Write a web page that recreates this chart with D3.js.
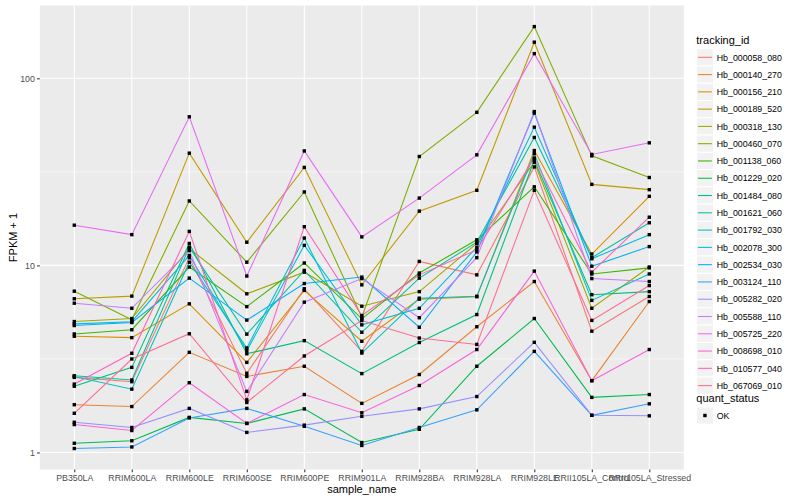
<!DOCTYPE html>
<html><head><meta charset="utf-8">
<script src="https://cdn.jsdelivr.net/npm/d3@7/dist/d3.min.js"></script>
<style>body{margin:0;background:#fff} text{font-family:"Liberation Sans",Arial,Helvetica,sans-serif}</style>
</head><body><svg id="c" width="800" height="500"></svg>
<script>
const categories = ["PB350LA","RRIM600LA","RRIM600LE","RRIM600SE","RRIM600PE","RRIM901LA","RRIM928BA","RRIM928LA","RRIM928LE","RRII105LA_Control","RRII105LA_Stressed"];
const trackingIds = ["Hb_000058_080","Hb_000140_270","Hb_000156_210","Hb_000189_520","Hb_000318_130","Hb_000460_070","Hb_001138_060","Hb_001229_020","Hb_001484_080","Hb_001621_060","Hb_001792_030","Hb_002078_300","Hb_002534_030","Hb_003124_110","Hb_005282_020","Hb_005588_110","Hb_005725_220","Hb_008698_010","Hb_010577_040","Hb_067069_010"];

const Hb_000058_080 = [2.52, 2.39, 11.0, 2.65, 7.5, 3.47, 10.5, 8.9, 33.6, 4.45, 6.82];
const Hb_000140_270 = [1.80, 1.76, 3.43, 2.55, 2.89, 1.83, 2.61, 4.7, 8.2, 2.42, 6.41];
const Hb_000156_210 = [4.18, 4.11, 6.23, 3.03, 7.35, 3.93, 6.6, 6.8, 41.1, 11.5, 23.4];
const Hb_000189_520 = [6.63, 6.85, 39.8, 13.3, 33.4, 7.87, 19.5, 25.2, 156, 27.1, 25.4];
const Hb_000318_130 = [5.01, 5.2, 12.3, 7.05, 9.2, 6.05, 7.24, 13.1, 35.6, 5.9, 9.8];
const Hb_000460_070 = [7.28, 5.12, 22.1, 10.4, 24.7, 5.28, 38.2, 65.8, 189, 38.5, 29.5];
const Hb_001138_060 = [4.30, 4.53, 9.8, 6.02, 10.3, 5.18, 9.1, 13.7, 26.3, 9.0, 9.7];
const Hb_001229_020 = [1.12, 1.155, 1.54, 1.43, 1.71, 1.13, 1.33, 2.89, 5.2, 1.97, 2.04];
const Hb_001484_080 = [2.26, 2.85, 13.1, 3.37, 3.96, 2.64, 3.87, 5.46, 36.6, 6.97, 7.24];
const Hb_001621_060 = [2.57, 2.44, 12.5, 4.29, 9.4, 4.39, 8.55, 13.3, 48.3, 11.0, 16.9];
const Hb_001792_030 = [2.55, 2.18, 10.4, 3.62, 14.0, 3.40, 6.68, 6.84, 39.6, 6.5, 9.0];
const Hb_002078_300 = [4.87, 5.0, 11.3, 3.5, 12.8, 4.81, 5.9, 12.5, 54.8, 10.85, 14.6];
const Hb_002534_030 = [4.77, 4.95, 8.55, 5.1, 8.0, 8.66, 4.67, 11.8, 65.2, 9.9, 12.6];
const Hb_003124_110 = [1.05, 1.07, 1.53, 1.72, 1.38, 1.09, 1.36, 1.69, 3.47, 1.58, 1.82];
const Hb_005282_020 = [1.45, 1.36, 1.72, 1.28, 1.40, 1.56, 1.71, 1.99, 3.88, 1.58, 1.57];
const Hb_005588_110 = [6.28, 5.9, 12.0, 2.12, 6.36, 8.5, 5.25, 11.0, 66.4, 8.5, 8.2];
const Hb_005725_220 = [16.4, 14.6, 62.3, 8.77, 40.9, 14.2, 22.9, 39, 135.5, 39.2, 45.2];
const Hb_008698_010 = [1.41, 1.31, 2.36, 1.43, 2.04, 1.63, 2.28, 3.55, 9.32, 2.42, 3.55];
const Hb_010577_040 = [2.32, 3.39, 15.2, 1.91, 16.1, 5.4, 8.9, 12.1, 37.5, 9.2, 18.1];
const Hb_067069_010 = [1.62, 3.16, 4.31, 1.85, 3.28, 5.07, 4.09, 3.78, 25.2, 5.08, 7.8];

const yTickValues = [1, 10, 100];
const yMinorValues = [Math.sqrt(10), Math.sqrt(1000)];
const quantStatus = ["OK"];

const palette = ["#F8766D","#EA8331","#D89000","#C09B00","#A3A500","#7CAE00","#39B600","#00BB4E","#00BF7D","#00C1A3","#00BFC4","#00BAE0","#00B0F6","#35A2FF","#9590FF","#C77CFF","#E76BF3","#FA62DB","#FF62BC","#FF6C91"];

const allValues = [Hb_000058_080,Hb_000140_270,Hb_000156_210,Hb_000189_520,Hb_000318_130,Hb_000460_070,Hb_001138_060,Hb_001229_020,Hb_001484_080,Hb_001621_060,Hb_001792_030,Hb_002078_300,Hb_002534_030,Hb_003124_110,Hb_005282_020,Hb_005588_110,Hb_005725_220,Hb_008698_010,Hb_010577_040,Hb_067069_010];
const series = trackingIds.map((id,i)=>({id, color: palette[i], values: allValues[i]}));

const svg = d3.select("#c");
const L = 39.8, R = 683.8, T = 5.5, B = 469.6;

const x = d3.scalePoint().domain(categories).range([L, R]).padding(0.6);
const flat = allValues.flat();
const lmin = Math.log10(d3.min(flat)), lmax = Math.log10(d3.max(flat));
const ex = (lmax - lmin) * 0.05;
const y = d3.scaleLog().domain([Math.pow(10, lmin - ex), Math.pow(10, lmax + ex)]).range([B, T]);

// panel
svg.append("rect").attr("x", L).attr("y", T).attr("width", R - L).attr("height", B - T).attr("fill", "#EBEBEB");
const g = svg.append("g");
g.selectAll(".ymin").data(yMinorValues).join("line")
  .attr("x1", L).attr("x2", R).attr("y1", d => y(d)).attr("y2", d => y(d))
  .attr("stroke", "#fff").attr("stroke-width", 0.53);
g.selectAll(".ymaj").data(yTickValues).join("line")
  .attr("x1", L).attr("x2", R).attr("y1", d => y(d)).attr("y2", d => y(d))
  .attr("stroke", "#fff").attr("stroke-width", 1.07);
g.selectAll(".xmaj").data(categories).join("line")
  .attr("x1", d => x(d)).attr("x2", d => x(d)).attr("y1", T).attr("y2", B)
  .attr("stroke", "#fff").attr("stroke-width", 1.07);

// lines
const line = d3.line().x((d, i) => x(categories[i])).y(d => y(d));
svg.append("g").selectAll("path").data(series).join("path")
  .attr("d", d => line(d.values)).attr("fill", "none")
  .attr("stroke", d => d.color).attr("stroke-width", 1.07);

// points
const pts = [];
series.forEach(s => s.values.forEach((v, i) => pts.push({c: categories[i], v})));
svg.append("g").selectAll("rect").data(pts).join("rect")
  .attr("x", d => x(d.c) - 1.7).attr("y", d => y(d.v) - 1.7)
  .attr("width", 3.4).attr("height", 3.4).attr("fill", "#000");

// axes
const xa = svg.append("g").attr("transform", `translate(0,${B})`)
  .call(d3.axisBottom(x).tickSize(2.75).tickPadding(2.2));
const ya = svg.append("g").attr("transform", `translate(${L},0)`)
  .call(d3.axisLeft(y).tickValues(yTickValues).tickFormat(d3.format("d")).tickSize(2.75).tickPadding(2.2));
[xa, ya].forEach(a => {
  a.select(".domain").remove();
  a.selectAll(".tick line").attr("stroke", "#333333").attr("stroke-width", 1.07);
  a.selectAll(".tick text").attr("fill", "#4D4D4D").attr("font-size", 8.8)
    .attr("font-family", '"Liberation Sans",Arial,sans-serif');
});

// axis titles
svg.append("text").attr("x", (L + R) / 2).attr("y", 493).attr("text-anchor", "middle")
  .attr("font-size", 11).attr("fill", "#000").text("sample_name");
svg.append("text").attr("transform", `translate(16.5,${(T + B) / 2}) rotate(-90)`).attr("text-anchor", "middle")
  .attr("font-size", 11).attr("fill", "#000").text("FPKM + 1");

// legend 1
const lx = 696.3, keyW = 17.28, firstY = 57.3;
svg.append("text").attr("x", lx).attr("y", 44.3).attr("font-size", 11).attr("fill", "#000").text("tracking_id");
const lg = svg.append("g").selectAll("g").data(series).join("g")
  .attr("transform", (d, i) => `translate(${lx},${firstY + i * keyW})`);
lg.append("rect").attr("x", 0).attr("y", -keyW / 2).attr("width", keyW).attr("height", keyW)
  .attr("fill", "#F2F2F2").attr("stroke", "#fff").attr("stroke-width", 1.07);
lg.append("line").attr("x1", 1.7).attr("x2", keyW - 1.7).attr("y1", 0).attr("y2", 0)
  .attr("stroke", d => d.color).attr("stroke-width", 1.07);
lg.append("text").attr("x", keyW + 3.2).attr("y", 3.2).attr("font-size", 8.8).attr("fill", "#000").text(d => d.id);

// legend 2
svg.append("text").attr("x", lx).attr("y", 402).attr("font-size", 11).attr("fill", "#000").text("quant_status");
const lg2 = svg.append("g").selectAll("g").data(quantStatus).join("g")
  .attr("transform", (d, i) => `translate(${lx},${415.5 + i * keyW})`);
lg2.append("rect").attr("x", 0).attr("y", -keyW / 2).attr("width", keyW).attr("height", keyW)
  .attr("fill", "#F2F2F2").attr("stroke", "#fff").attr("stroke-width", 1.07);
lg2.append("rect").attr("x", keyW / 2 - 1.7).attr("y", -1.7).attr("width", 3.4).attr("height", 3.4).attr("fill", "#000");
lg2.append("text").attr("x", keyW + 3.2).attr("y", 3.2).attr("font-size", 8.8).attr("fill", "#000").text(d => d);
</script></body></html>
